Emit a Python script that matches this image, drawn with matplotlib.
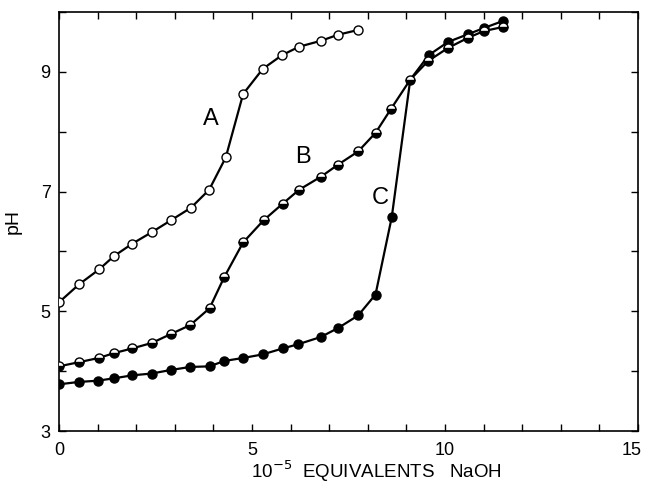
import matplotlib
matplotlib.use("Agg")
import matplotlib.pyplot as plt
import matplotlib.transforms as mtransforms

# Curve A (open circles)
a_x = [0, 0.52, 1.04, 1.42, 1.9, 2.4, 2.9, 3.42, 3.89, 4.32, 4.77, 5.28, 5.78, 6.22, 6.79, 7.23, 7.75]
a_y = [5.15, 5.45, 5.70, 5.92, 6.13, 6.32, 6.52, 6.73, 7.03, 7.57, 8.63, 9.05, 9.28, 9.42, 9.52, 9.62, 9.70]

# Curve B (half-filled circles)
b_x = [0, 0.52, 1.03, 1.42, 1.9, 2.4, 2.9, 3.4, 3.9, 4.28, 4.77, 5.3, 5.8, 6.22, 6.79, 7.23, 7.75, 8.2, 8.6, 9.1, 9.56, 10.08, 10.6, 11.0, 11.5]
b_y = [4.08, 4.15, 4.22, 4.30, 4.38, 4.47, 4.62, 4.77, 5.05, 5.57, 6.15, 6.52, 6.80, 7.03, 7.25, 7.45, 7.67, 7.98, 8.38, 8.87, 9.18, 9.40, 9.57, 9.68, 9.75]

# Curve C (filled circles); point at 9.1 is where the line meets curve B
c_x = [0, 0.52, 1.0, 1.42, 1.9, 2.4, 2.9, 3.4, 3.9, 4.28, 4.77, 5.28, 5.8, 6.2, 6.78, 7.23, 7.75, 8.2, 8.62, 9.1, 9.58, 10.08, 10.6, 11.0, 11.5]
c_y = [3.78, 3.82, 3.84, 3.88, 3.93, 3.96, 4.02, 4.07, 4.08, 4.17, 4.22, 4.28, 4.38, 4.45, 4.57, 4.72, 4.93, 5.28, 6.57, 8.87, 9.28, 9.50, 9.63, 9.73, 9.85]

x_ticks = [0, 5, 10, 15]
y_ticks = [3, 5, 7, 9]

plt.rcParams['font.family'] = ['Liberation Sans', 'DejaVu Sans']

fig = plt.figure(figsize=(6.46, 4.87), dpi=100)
ax = fig.add_axes([59/646, 1 - 431/487, (638-59)/646, (431-12)/487])

lw = 1.6
ms = 6.5
ax.plot(a_x, a_y, '-', color='black', lw=lw, marker='o', ms=ms,
        mfc='white', mec='black', mew=1.0, zorder=3)
ax.plot(b_x, b_y, '-', color='black', lw=lw, marker='o', ms=ms,
        fillstyle='bottom', mfc='black', mfcalt='white', mec='black', mew=1.0, zorder=3)
c_marks = [i for i in range(len(c_x)) if i != 19]
ax.plot(c_x, c_y, '-', color='black', lw=lw, marker='o', ms=ms,
        mfc='black', mec='black', mew=1.0, markevery=c_marks, zorder=2)

ax.set_xlim(0, 15)
ax.set_ylim(3, 10)
ax.set_xticks(x_ticks)
ax.set_yticks(y_ticks)
ax.set_xticks(range(0, 16), minor=True)
ax.set_yticks(range(3, 11), minor=True)
ax.tick_params(which='both', direction='in', top=True, right=True,
               length=5, width=1.0, labelsize=13)
ax.tick_params(axis='x', which='major', pad=8)
ax.tick_params(axis='y', which='major', pad=6)
for s in ax.spines.values():
    s.set_linewidth(1.2)

fig.canvas.draw()
last = ax.get_xticklabels()[-1]
last.set_transform(last.get_transform() +
                   mtransforms.ScaledTranslation(-6/100, 0, fig.dpi_scale_trans))

ax.text(3.94, 8.22, 'A', fontsize=17, ha='center', va='center')
ax.text(6.32, 7.57, 'B', fontsize=17, ha='center', va='center')
ax.text(8.32, 6.9, 'C', fontsize=17, ha='center', va='center')

ax.set_ylabel('pH', fontsize=14)
ax.yaxis.set_label_coords(-0.065, 0.5)
fig.text(376/646, 1 - 471/487, r'10$^{-5}$  EQUIVALENTS   NaOH', fontsize=13.5,
         ha='center', va='center')

fig.savefig('out.png', dpi=100)
